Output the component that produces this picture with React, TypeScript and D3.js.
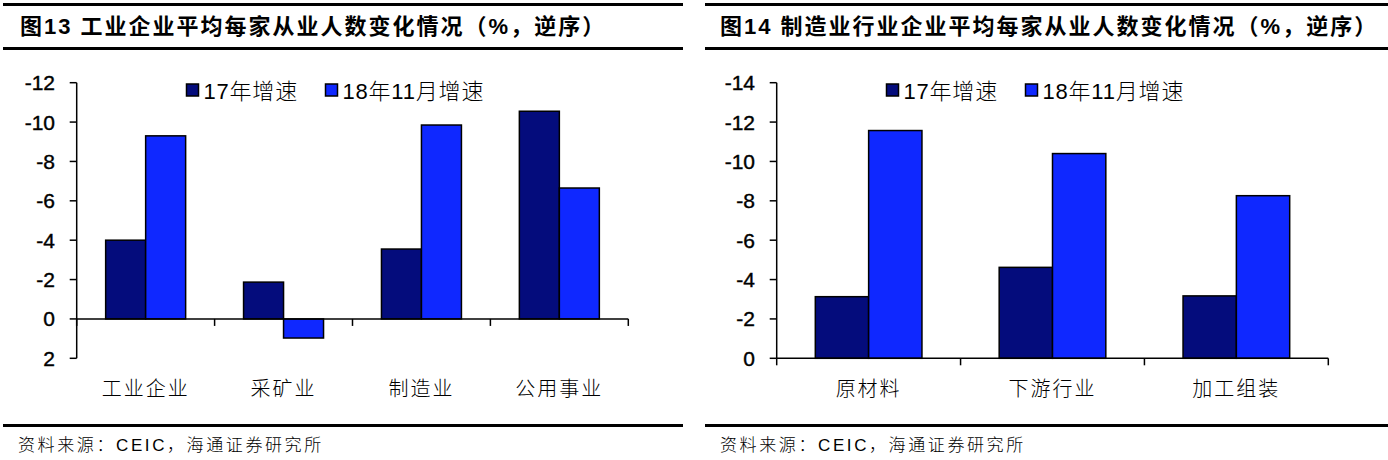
import React from 'react';
import * as d3 from 'd3';

const leftTitle = '图13 工业企业平均每家从业人数变化情况（%，逆序）';
const rightTitle = '图14 制造业行业企业平均每家从业人数变化情况（%，逆序）';
const seriesNames = ['17年增速', '18年11月增速'];
const seriesColors = ['#040C7C', '#0F28FF'];
const source = '资料来源：CEIC，海通证券研究所';

const categories1 = ['工业企业', '采矿业', '制造业', '公用事业'];
const growth17_1 = [-4.0, -1.87, -3.55, -10.55];
const growth18_1 = [-9.3, 0.97, -9.85, -6.65];
const yTicks1 = [-12, -10, -8, -6, -4, -2, 0, 2];

const categories2 = ['原材料', '下游行业', '加工组装'];
const growth17_2 = [-3.13, -4.62, -3.17];
const growth18_2 = [-11.57, -10.4, -8.26];
const yTicks2 = [-14, -12, -10, -8, -6, -4, -2, 0];

const LATIN = "'Liberation Sans', Arial, 'Noto Sans CJK SC', sans-serif";
const CJK = "'Liberation Sans', 'Noto Sans CJK SC', sans-serif";

type PanelProps = {
  ox: number;
  lineX1: number;
  lineX2: number;
  title: string;
  categories: string[];
  series: number[][];
  ticks: number[];
};

function Panel({ ox, lineX1, lineX2, title, categories, series, ticks }: PanelProps) {
  const axisX = 76.7;
  const plotRight = 628.3;
  const top = 82.7;
  const bottom = 358.3;
  const y = d3.scaleLinear().domain([ticks[0], ticks[ticks.length - 1]]).range([top, bottom]);
  const x = d3.scaleBand<string>().domain(categories).range([axisX, plotRight]).padding(0);
  const bw = x.bandwidth();
  const inner = d3.scaleBand<number>().domain(series.map((_, i) => i)).range([bw * 0.21, bw * 0.79]).padding(0);
  const y0 = y(0);
  const boundaries = d3.range(categories.length + 1).map((i) => axisX + i * bw);

  return (
    <g transform={`translate(${ox},0)`}>
      <line x1={lineX1} x2={lineX2} y1={4.5} y2={4.5} stroke="#000" strokeWidth={3} />
      <line x1={lineX1} x2={lineX2} y1={48.5} y2={48.5} stroke="#000" strokeWidth={3} />
      <text x={20} y={34} fontFamily={CJK} fontWeight={700} fontSize={22} letterSpacing={2} fill="#000">
        {title}
      </text>
      {/* bars */}
      {categories.map((c, ci) => (
        <g key={c}>
          {series.map((s, si) => {
            const v = s[ci];
            const yv = y(v);
            return (
              <rect
                key={si}
                x={(x(c) as number) + (inner(si) as number)}
                y={Math.min(yv, y0)}
                width={inner.bandwidth()}
                height={Math.abs(yv - y0)}
                fill={seriesColors[si]}
                stroke="#000"
                strokeWidth={1.5}
              />
            );
          })}
        </g>
      ))}
      {/* y axis */}
      <line x1={axisX} x2={axisX} y1={top} y2={bottom} stroke="#000" strokeWidth={1.5} />
      {ticks.map((t) => (
        <g key={t}>
          <line x1={axisX - 7} x2={axisX} y1={y(t)} y2={y(t)} stroke="#000" strokeWidth={1.5} />
          <text
            x={55}
            y={y(t)}
            dy="0.36em"
            textAnchor="end"
            fontFamily={LATIN}
            fontSize={21}
            fill="#000"
            stroke="#000"
            strokeWidth={0.4}
          >
            {t}
          </text>
        </g>
      ))}
      {/* x axis */}
      <line x1={axisX} x2={plotRight} y1={y0} y2={y0} stroke="#000" strokeWidth={1.5} />
      {boundaries.map((b, i) => (
        <line key={i} x1={b} x2={b} y1={y0} y2={y0 + 7} stroke="#000" strokeWidth={1.5} />
      ))}
      {categories.map((c) => (
        <text
          key={c}
          x={(x(c) as number) + bw / 2}
          y={396}
          textAnchor="middle"
          fontFamily={CJK}
          fontWeight={300}
          fontSize={20}
          letterSpacing={2}
          fill="#000"
        >
          {c}
        </text>
      ))}
      {/* legend */}
      {seriesNames.map((n, i) => {
        const lx = i === 0 ? 186.5 : 325.5;
        return (
          <g key={n}>
            <rect x={lx} y={84} width={12} height={12} fill={seriesColors[i]} stroke="#000" strokeWidth={1.5} />
            <text x={lx + 17} y={98.5} fontFamily={CJK} fontWeight={300} fontSize={22} letterSpacing={0.8} fill="#000">
              {n}
            </text>
          </g>
        );
      })}
      {/* footer */}
      <line x1={lineX1} x2={lineX2} y1={425.5} y2={425.5} stroke="#000" strokeWidth={3} />
      <text x={lineX1 + 15} y={451} fontFamily={CJK} fontWeight={300} fontSize={17} letterSpacing={2.6} fill="#000">
        {source}
      </text>
    </g>
  );
}

export default function App() {
  return (
    <svg
      width={1388}
      height={460}
      viewBox="0 0 1388 460"
      style={{ position: 'absolute', left: 0, top: 0, background: '#fff' }}
    >
      <rect x={0} y={0} width={1388} height={460} fill="#fff" />
      <Panel
        ox={0}
        lineX1={3}
        lineX2={683}
        title={leftTitle}
        categories={categories1}
        series={[growth17_1, growth18_1]}
        ticks={yTicks1}
      />
      <Panel
        ox={700}
        lineX1={5}
        lineX2={688}
        title={rightTitle}
        categories={categories2}
        series={[growth17_2, growth18_2]}
        ticks={yTicks2}
      />
    </svg>
  );
}
